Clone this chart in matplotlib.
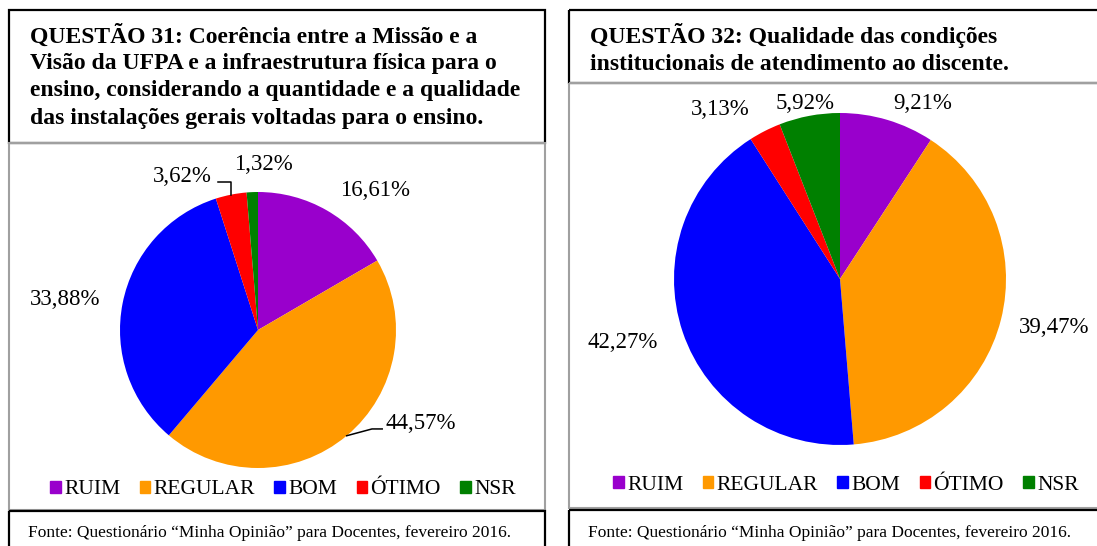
import matplotlib.pyplot as plt
from matplotlib.patches import Rectangle, Patch
import numpy as np

plt.rcParams['font.family'] = ['Liberation Serif', 'DejaVu Serif']

# dados
categorias = ['RUIM', 'REGULAR', 'BOM', 'ÓTIMO', 'NSR']
cores = ['#9900CC', '#FF9900', '#0000FF', '#FF0000', '#008000']
q31 = [16.61, 44.57, 33.88, 3.62, 1.32]
q32 = [9.21, 39.47, 42.27, 3.13, 5.92]
titulo31 = ['QUESTÃO 31: Coerência entre a Missão e a',
            'Visão da UFPA e a infraestrutura física para o',
            'ensino, considerando a quantidade e a qualidade',
            'das instalações gerais voltadas para o ensino.']
titulo32 = ['QUESTÃO 32: Qualidade das condições',
            'institucionais de atendimento ao discente.']
fonte = 'Fonte: Questionário “Minha Opinião” para Docentes, fevereiro 2016.'

# posição dos rótulos, em unidades do raio da pizza
pos31 = [(0.85, 1.01), (1.18, -0.68), (-1.40, 0.22), (-0.55, 1.11), (0.04, 1.20)]
pos32 = [(0.50, 1.06), (1.29, -0.29), (-1.31, -0.38), (-0.72, 1.02), (-0.21, 1.06)]

W, H = 1097, 546
fig = plt.figure(figsize=(W / 100, H / 100), dpi=100)

# fundo em pixels para as caixas e textos
bg = fig.add_axes([0, 0, 1, 1], zorder=0)
bg.set_xlim(0, W)
bg.set_ylim(H, 0)
bg.axis('off')

def caixa(x, y, w, h, cor, lw):
    bg.add_patch(Rectangle((x, y), w, h, fill=False, ec=cor, lw=lw))

# painel esquerdo
caixa(9, 10, 536, 133, 'black', 1.6)
caixa(9, 143, 536, 367, '#A0A0A0', 1.5)
caixa(9, 511, 536, 60, 'black', 1.6)
# painel direito
caixa(569, 10, 560, 73, 'black', 1.6)
caixa(569, 83, 560, 425, '#A0A0A0', 1.5)
caixa(569, 510, 560, 60, 'black', 1.6)

for i, linha in enumerate(titulo31):
    bg.text(30, 36 + i * 27.4, linha, fontsize=17, fontweight='bold', va='center')
for i, linha in enumerate(titulo32):
    bg.text(590, 36 + i * 28, linha, fontsize=17, fontweight='bold', va='center')

bg.text(28, 533, fonte, fontsize=12.5, va='center')
bg.text(588, 533, fonte, fontsize=12.5, va='center')


def pizza(cx, cy, r, valores, posicoes):
    ax = fig.add_axes([(cx - r) / W, (H - cy - r) / H, 2 * r / W, 2 * r / H], zorder=1)
    wedges, _ = ax.pie(valores, colors=cores, startangle=90, counterclock=False,
                       wedgeprops=dict(linewidth=0))
    ax.set_xlim(-1, 1)
    ax.set_ylim(-1, 1)
    ax.axis('off')
    for v, (x, y) in zip(valores, posicoes):
        ax.text(x, y, f'{v:.2f}'.replace('.', ',') + '%', fontsize=16.5,
                ha='center', va='center', clip_on=False)
    return ax, wedges


def meio(w):
    a = np.deg2rad((w.theta1 + w.theta2) / 2)
    return np.cos(a), np.sin(a)


ax1, w1 = pizza(258, 330, 138, q31, pos31)
ax2, w2 = pizza(840, 279, 166, q32, pos32)

# linhas de chamada da questão 31
x0, y0 = meio(w1[3])
ax1.plot([x0, x0, -0.29], [y0, 1.07, 1.07], color='black', lw=1.1, clip_on=False)
x0, y0 = meio(w1[1])
ax1.plot([x0, 0.826, 0.90], [y0, -0.717, -0.717], color='black', lw=1.1, clip_on=False)

handles = [Patch(color=c) for c in cores]
for cx, cy in [(283, 490), (846, 485)]:
    fig.legend(handles, categorias, loc='center', bbox_to_anchor=(cx / W, 1 - cy / H),
               ncol=5, frameon=False, fontsize=15.5, handlelength=0.5, handleheight=0.5,
               handletextpad=0.15, columnspacing=0.9, borderaxespad=0)

fig.savefig('out.png', dpi=100)
